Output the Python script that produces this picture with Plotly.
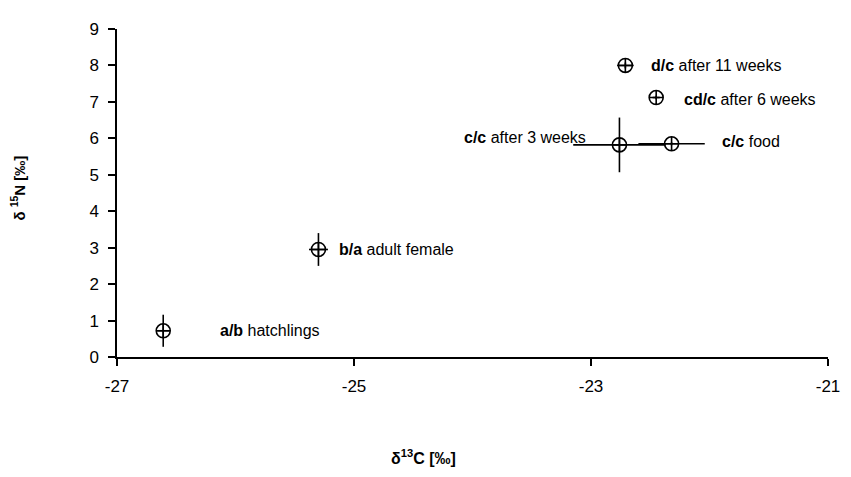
import plotly.graph_objects as go

# Data
groups = ["hatchlings", "adult female", "after 3 weeks", "food", "after 11 weeks", "after 6 weeks"]
bold_tags = ["a/b", "b/a", "c/c", "c/c", "d/c", "cd/c"]
d13C = [-26.61, -25.30, -22.76, -22.32, -22.71, -22.45]
d13C_err = [0.05, 0.08, 0.39, 0.28, 0.07, 0.03]
d15N = [0.72, 2.95, 5.82, 5.85, 8.0, 7.12]
d15N_err = [0.44, 0.45, 0.75, 0.04, 0.08, 0.05]

x_ticks = [-27, -25, -23, -21]
y_ticks = [0, 1, 2, 3, 4, 5, 6, 7, 8, 9]

# label placement (pixel offsets only)
label_shift = [55, 19, -31, 48, 24, 26]
label_yshift = [0, 0, 7, 2, 0, -2]
label_anchor = ["left", "left", "right", "left", "left", "left"]

FONT = "Arial, Liberation Sans, sans-serif"

# page body has an 8px margin; plot area should span x 117..828, y 20..357
L, T, R, B = 117, 20, 828, 357
W, H = 851, 477
OFF = 8

fig = go.Figure()
fig.add_trace(go.Scatter(
    x=d13C, y=d15N, mode="markers",
    marker=dict(symbol="circle-cross-open", size=14, color="black",
                line=dict(color="black", width=1.6)),
    error_x=dict(type="data", array=d13C_err, color="black", thickness=1.6, width=0),
    error_y=dict(type="data", array=d15N_err, color="black", thickness=1.6, width=0),
    showlegend=False, hoverinfo="skip",
))

for g, tag, x, y, sx, sy, anc in zip(groups, bold_tags, d13C, d15N,
                                     label_shift, label_yshift, label_anchor):
    fig.add_annotation(x=x, y=y, xref="x", yref="y", text=f"<b>{tag}</b> {g}",
                       showarrow=False, xanchor=anc, yanchor="middle",
                       xshift=sx, yshift=sy,
                       font=dict(family=FONT, size=16, color="black"))

def px_to_paper(px, py):
    return (px - L) / (R - L), (B - py) / (B - T)

tx, ty = px_to_paper(423, 460)
fig.add_annotation(x=tx, y=ty, xref="paper", yref="paper",
                   text="<b>δ<sup>13</sup>C [‰]</b>", showarrow=False,
                   xanchor="center", yanchor="middle",
                   font=dict(family=FONT, size=16, color="black"))
yx, yy = px_to_paper(18, 184)
fig.add_annotation(x=yx, y=yy, xref="paper", yref="paper",
                   text="<b>δ <sup>15</sup>N [‰]</b>", showarrow=False, textangle=-90,
                   xanchor="center", yanchor="middle",
                   font=dict(family=FONT, size=15, color="black"))

fig.update_layout(
    width=W, height=H,
    margin=dict(l=L - OFF, r=W + OFF - R, t=T - OFF, b=H + OFF - B),
    paper_bgcolor="white", plot_bgcolor="white",
    font=dict(family=FONT, size=17, color="black"),
    xaxis=dict(range=[-27, -21], tickvals=x_ticks, ticktext=[str(v) for v in x_ticks],
               showgrid=False, zeroline=False, showline=True, linecolor="black",
               linewidth=1.5, ticks="outside", ticklen=7, tickwidth=1.5,
               tickcolor="black", tickfont=dict(size=17), ticklabelstandoff=6),
    yaxis=dict(range=[0, 9], tickvals=y_ticks, showgrid=False, zeroline=False,
               showline=True, linecolor="black", linewidth=1.5, ticks="outside",
               ticklen=7, tickwidth=1.5, tickcolor="black", tickfont=dict(size=17),
               ticklabelstandoff=6),
)

fig.write_html("out.html")
